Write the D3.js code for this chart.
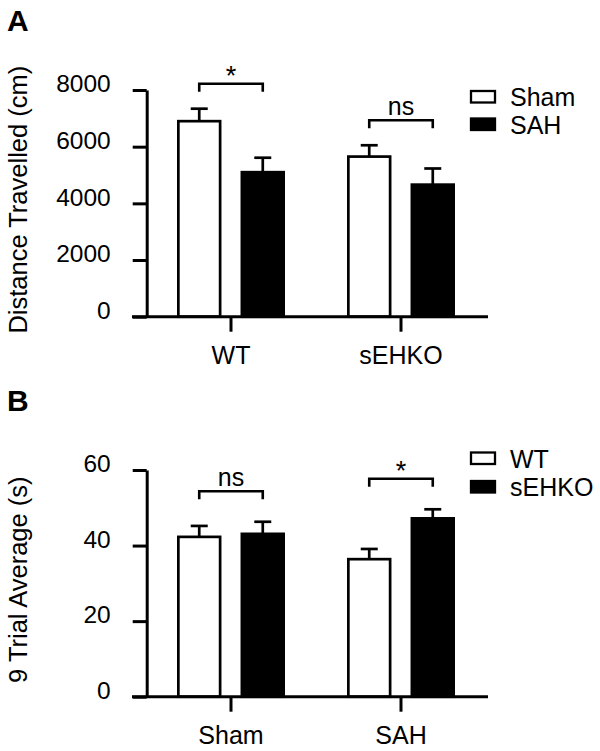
<!DOCTYPE html>
<html>
<head>
<meta charset="utf-8">
<script src="https://cdn.jsdelivr.net/npm/d3@7"></script>
<style>
  body { margin: 0; background: #fff; }
  svg text { font-family: "Liberation Sans", Arial, sans-serif; fill: #000; }
</style>
</head>
<body>
<svg id="chart" width="600" height="751"></svg>
<script>
'use strict';

// Panel A data
var groupsA = ['WT', 'sEHKO'];
var seriesA = ['Sham', 'SAH'];
var shamA = [6900, 5650];
var sahA = [5100, 4660];
var shamErrA = [440, 400];
var sahErrA = [510, 570];
var sigA = ['*', 'ns'];
var ticksA = [0, 2000, 4000, 6000, 8000];

// Panel B data
var groupsB = ['Sham', 'SAH'];
var seriesB = ['WT', 'sEHKO'];
var wtB = [42.3, 36.4];
var sehkoB = [43.1, 47.2];
var wtErrB = [2.9, 2.7];
var sehkoErrB = [3.2, 2.4];
var sigB = ['ns', '*'];
var ticksB = [0, 20, 40, 60];

var svg = d3.select('#chart');
var fills = ['#fff', '#000'];
var font = '"Liberation Sans", Arial, sans-serif';

function drawPanel(opt) {
  var g = svg.append('g');

  var x0 = d3.scaleBand().domain(opt.groups).range([146, 486]);
  var x1 = d3.scaleBand().domain(opt.series).range([-54, 54]).paddingInner(0.3);
  var y = d3.scaleLinear().domain([0, opt.max]).range([opt.bottom, opt.bottom - 226.7]);

  //Panel letter
  g.append('text').attr('x', 7).attr('y', opt.bottom - 286)
    .style('font-size', '30px').style('font-weight', 'bold').text(opt.letter);

  //Y axis
  var yAxis = g.append('g').attr('transform', 'translate(146.7,0)')
    .call(d3.axisLeft(y).tickValues(opt.ticks).tickFormat(d3.format('d'))
      .tickSize(14).tickSizeOuter(0).tickPadding(22));
  yAxis.select('.domain').attr('stroke-width', 3);
  yAxis.selectAll('.tick line').attr('stroke-width', 3);
  yAxis.selectAll('.tick text').attr('dy', '0.32em').attr('y', -6)
    .style('font-size', '24.5px').style('font-family', font);

  //Y label
  g.append('text').attr('transform', 'rotate(-90)')
    .attr('x', -(opt.bottom - 117)).attr('y', 27)
    .style('text-anchor', 'middle').style('font-size', '25.5px').text(opt.ylabel);

  //Bars
  var rows = [];
  opt.groups.forEach(function (grp, i) {
    opt.series.forEach(function (s, j) {
      rows.push({ group: grp, series: s, j: j, value: opt.values[j][i], err: opt.errs[j][i] });
    });
  });

  var bw = x1.bandwidth();
  function mid(d) { return x0(d.group) + x0.bandwidth() / 2 + x1(d.series) + bw / 2; }

  var bars = g.selectAll('g.bar').data(rows).enter().append('g').classed('bar', true);

  bars.append('line')
    .attr('x1', mid).attr('x2', mid)
    .attr('y1', function (d) { return y(d.value); })
    .attr('y2', function (d) { return y(d.value + d.err); })
    .attr('stroke', '#000').attr('stroke-width', 2.7);

  bars.append('line')
    .attr('x1', function (d) { return mid(d) - 8.5; })
    .attr('x2', function (d) { return mid(d) + 8.5; })
    .attr('y1', function (d) { return y(d.value + d.err); })
    .attr('y2', function (d) { return y(d.value + d.err); })
    .attr('stroke', '#000').attr('stroke-width', 2.7);

  bars.append('rect')
    .attr('x', function (d) { return mid(d) - bw / 2 + 1.35; })
    .attr('y', function (d) { return y(d.value); })
    .attr('width', bw - 2.7)
    .attr('height', function (d) { return y(0) - y(d.value); })
    .attr('fill', function (d) { return fills[d.j]; })
    .attr('stroke', '#000').attr('stroke-width', 2.7);

  //X axis
  g.append('line').attr('x1', 132).attr('x2', 488)
    .attr('y1', y(0)).attr('y2', y(0)).attr('stroke', '#000').attr('stroke-width', 3);
  var xAxis = g.append('g').attr('transform', 'translate(0,' + y(0) + ')')
    .call(d3.axisBottom(x0).tickSize(15).tickSizeOuter(0).tickPadding(15));
  xAxis.select('.domain').remove();
  xAxis.selectAll('.tick line').attr('stroke-width', 3);
  xAxis.selectAll('.tick text').style('font-size', '25px').style('font-family', font);

  //Significance brackets
  opt.groups.forEach(function (grp, i) {
    var cx = x0(grp) + x0.bandwidth() / 2;
    var xa = cx + x1(opt.series[0]) + bw / 2;
    var xb = cx + x1(opt.series[1]) + bw / 2;
    var top = d3.min(opt.series.map(function (s, j) { return y(opt.values[j][i] + opt.errs[j][i]); }));
    var by = top - opt.gap;
    g.append('path')
      .attr('d', 'M' + xa + ',' + (by + 8) + 'V' + by + 'H' + xb + 'V' + (by + 8))
      .attr('fill', 'none').attr('stroke', '#000').attr('stroke-width', 2.6);
    var star = opt.sig[i] === '*';
    g.append('text').attr('x', cx).attr('y', star ? by + 1 : by - 5)
      .style('text-anchor', 'middle').style('font-size', star ? '27px' : '25px').text(opt.sig[i]);
  });

  //Legend
  var leg = g.selectAll('g.legend').data(opt.series).enter().append('g').classed('legend', true)
    .attr('transform', function (d, i) { return 'translate(471,' + (opt.legendTop + i * opt.legendStep) + ')'; });
  leg.append('rect').attr('width', 24).attr('height', 11.5)
    .attr('fill', function (d, i) { return fills[i]; })
    .attr('stroke', '#000').attr('stroke-width', 2.3);
  leg.append('text').attr('x', 39).attr('y', 15).style('font-size', '25px').text(function (d) { return d; });
}

drawPanel({
  letter: 'A', groups: groupsA, series: seriesA,
  values: [shamA, sahA], errs: [shamErrA, sahErrA], sig: sigA,
  ticks: ticksA, max: 8000, bottom: 316.7, gap: 25,
  ylabel: 'Distance Travelled (cm)', legendTop: 91, legendStep: 27.5
});

drawPanel({
  letter: 'B', groups: groupsB, series: seriesB,
  values: [wtB, sehkoB], errs: [wtErrB, sehkoErrB], sig: sigB,
  ticks: ticksB, max: 60, bottom: 696.7, gap: 30.5,
  ylabel: '9 Trial Average (s)', legendTop: 452.5, legendStep: 28.5
});
</script>
</body>
</html>
